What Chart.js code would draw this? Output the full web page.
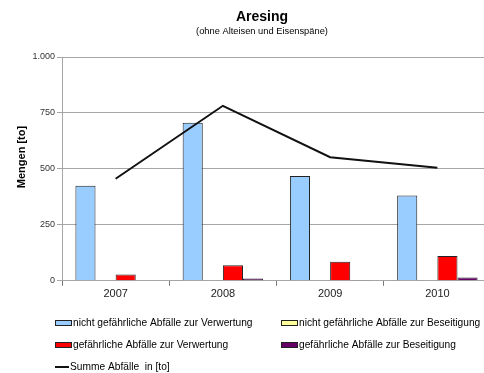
<!DOCTYPE html>
<html>
<head>
<meta charset="utf-8">
<script src="https://cdn.jsdelivr.net/npm/chart.js@4"></script>
<style>
  html, body { margin: 0; padding: 0; background: #fff; overflow: hidden; }
  canvas { display: block; }
</style>
</head>
<body>
<canvas id="chart" width="492" height="373"></canvas>
<script>
(()=>{
    const ctx = document.getElementById('chart');
    Chart.defaults.font.family = '"Liberation Sans", Arial, sans-serif';
    Chart.defaults.color = '#000';

    // data
    const years = ['2007', '2008', '2009', '2010'];
    const nichtGefVerwertung = [425, 706, 468, 381];
    const nichtGefBeseitigung = [0, 0, 0, 0];
    const gefVerwertung = [28, 70, 85, 111];
    const gefBeseitigung = [2, 10, 1, 15];
    const summe = [456, 782, 552, 505];
    const yTicks = [0, 250, 500, 750, 1000];

    const fmt = v => String(v).replace(/\B(?=(\d{3})+(?!\d))/g, '.');

    // titles + legend drawn by hand, the legend has two aligned columns
    const extras = {
        id: 'extras',
        afterDraw(chart) {
            const c = chart.ctx;
            c.save();
            c.fillStyle = '#000';
            c.textAlign = 'center';
            c.textBaseline = 'middle';
            c.font = 'bold 14px "Liberation Sans", Arial, sans-serif';
            c.fillText('Aresing', 262, 17);
            c.font = '9.3px "Liberation Sans", Arial, sans-serif';
            c.fillText('(ohne Alteisen und Eisenspäne)', 262, 31);

            // y axis title, sits a bit above the plot middle
            c.save();
            c.translate(22, 157);
            c.rotate(-Math.PI / 2);
            c.font = 'bold 11px "Liberation Sans", Arial, sans-serif';
            c.fillText('Mengen [to]', 0, 0);
            c.restore();

            const ds = chart.data.datasets;
            const slots = [[55, 323], [281, 323], [55, 345], [281, 345]];
            c.font = '10.2px "Liberation Sans", Arial, sans-serif';
            c.textAlign = 'left';
            ds.filter(d => d.type !== 'line').forEach((d, i) => {
                const [x, y] = slots[i];
                c.fillStyle = d.backgroundColor;
                c.fillRect(x, y - 3, 17, 6);
                c.strokeStyle = '#222';
                c.lineWidth = 1;
                c.strokeRect(x + 0.5, y - 2.5, 16, 5);
                c.fillStyle = '#000';
                c.fillText(d.label, x + 18, y);
            });
            const line = ds.find(d => d.type === 'line');
            c.strokeStyle = line.borderColor;
            c.lineWidth = 2;
            c.beginPath();
            c.moveTo(55, 367);
            c.lineTo(69, 367);
            c.stroke();
            c.fillText(line.label, 70, 367);
            c.restore();
        }
    };

    const barStyle = { borderColor: '#222', borderWidth: 1, categoryPercentage: 0.75, barPercentage: 1, order: 1 };

    new Chart(ctx, {
        type: 'bar',
        data: {
            labels: years,
            datasets: [
                { label: 'nicht gefährliche Abfälle zur Verwertung', data: nichtGefVerwertung, backgroundColor: '#99CCFF', ...barStyle },
                { label: 'nicht gefährliche Abfälle zur Beseitigung', data: nichtGefBeseitigung, backgroundColor: '#FFFF99', ...barStyle },
                { label: 'gefährliche Abfälle zur Verwertung', data: gefVerwertung, backgroundColor: '#FF0000', ...barStyle },
                { label: 'gefährliche Abfälle zur Beseitigung', data: gefBeseitigung, backgroundColor: '#660066', ...barStyle },
                {
                    type: 'line',
                    label: 'Summe Abfälle  in [to]',
                    data: summe,
                    borderColor: '#111',
                    borderWidth: 2,
                    pointRadius: 0,
                    tension: 0,
                    order: 0
                }
            ]
        },
        options: {
            responsive: false,
            animation: false,
            layout: { padding: { top: 57, bottom: 70, left: 0, right: 1 } },
            plugins: {
                legend: { display: false },
                tooltip: { enabled: false }
            },
            scales: {
                y: {
                    min: 0,
                    max: 1000,
                    afterBuildTicks: scale => { scale.ticks = yTicks.map(v => ({ value: v })); },
                    afterFit: scale => { scale.width = 62; },
                    ticks: {
                        font: { size: 9 },
                        color: '#333',
                        padding: 2,
                        callback: v => fmt(v)
                    },
                    grid: { color: '#a6a6a6', lineWidth: 1, tickLength: 5 },
                    border: { color: '#a6a6a6' }
                },
                x: {
                    ticks: { font: { size: 11 }, color: '#222', padding: 2 },
                    grid: { drawOnChartArea: false, color: '#777', tickLength: 5, offset: true },
                    border: { color: '#a6a6a6' }
                }
            }
        },
        plugins: [extras]
    });
})()
</script>
</body>
</html>
